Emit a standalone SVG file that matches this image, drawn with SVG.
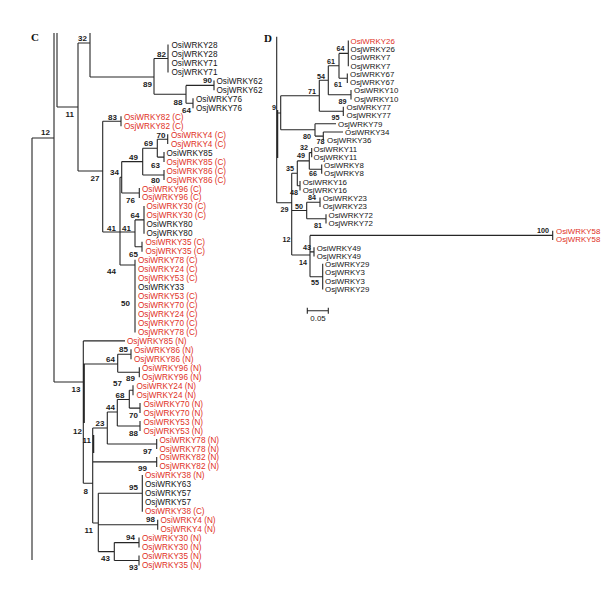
<svg xmlns="http://www.w3.org/2000/svg" width="610" height="599" viewBox="0 0 610 599">
<style>
.bg{fill:#fff}
.ln{stroke:#262626;stroke-width:1.1;fill:none}
.t{font-family:"Liberation Sans",Arial,sans-serif;font-size:8.2px;fill:#141414}
.td{font-family:"Liberation Sans",Arial,sans-serif;font-size:7.9px;fill:#141414}
.r{fill:#e0301e}
.bs{font-family:"Liberation Sans",Arial,sans-serif;font-size:8px;font-weight:bold;fill:#1a1a1a;text-anchor:end}
.bsd{font-family:"Liberation Sans",Arial,sans-serif;font-size:7.2px;font-weight:bold;fill:#1a1a1a;text-anchor:end}
.pl{font-family:"Liberation Serif","Times New Roman",serif;font-size:11px;font-weight:bold;fill:#111}
</style>
<rect class="bg" x="0" y="0" width="610" height="599"/>
<text class="pl" x="31" y="41">C</text>
<text class="pl" x="264" y="42">D</text>
<g id="connectors">
<path class="ln" d="M32 138V560M32 138H54M54 33V382M57 33V107M57 107H78M78 43V171M78 43H90M90 33V77M90 77H154M154 58.5V94.3M154 58.5H168M168 44.5V72.4M154 94.3H186M186 85.4V103.3M186 85.4H214M214 80.4V90.3M186 103.3H193M193 98.3V108.3"/>
<path class="ln" d="M78 171H102.7M102.7 121.2V232M102.7 121.2H121M121 116.2V126.2M102.7 232H135M120 177.3V265M120 177.3H121.7M121.7 161.6V193M121.7 161.6H142.7M142.7 148.2V175M142.7 148.2H157.3M157.3 139.2V157.1M157.3 139.2H167.7M167.7 134.2V144.1M157.3 157.1H164M164 152.1V162.1M142.7 175H164M164 170V180M121.7 193H139.3M139.3 188V197.9M135 219.9V246.8M135 219.9H144M144 205.9V233.8M135 246.8H142M142 241.8V251.7M120 265H135M135 259.7V332.4"/>
<path class="ln" d="M54 382H83.3M83.3 340.9V483.3M84.3 364V423M83.3 340.9H125M83.3 364H117.7M117.7 354.3V372.3M117.7 354.3H131M131 349.3V359.3M117.7 372.3H139.3M139.3 367.3V377.2M83.3 483.3H92.7M92.7 428V523M93.7 435V453M92.7 428H107.3M107.3 412V444M107.3 412H117.3M117.3 399.5V426M117.3 399.5H129.3M129.3 390.2V408.1M129.3 390.2H133M133 385.2V395.2M129.3 408.1H140M140 403.1V413.1M117.3 426H140M140 421.1V431M107.3 444H156.7M156.7 439V449M92.7 461.9H156.7M156.7 456.9V466.9M92.7 523H98.3M98.3 493.3V551.6M98.3 493.3H142.3M142.3 474.9V511.7M98.3 524.7H157.7M157.7 519.7V529.7M98.3 551.6H114.3M114.3 542.6V560.5M114.3 542.6H139M139 537.6V547.6M114.3 560.5H139M139 555.5V565.5"/>
<path class="ln" d="M276.7 36.7V202.7M277.7 110V158M276.7 113H280.7M280.7 95.8V129.8M280.7 95.8H319.3M319.3 80.3V111.3M319.3 80.3H328.3M328.3 65.8V94.8M328.3 65.8H339M339 53.4V78.2M339 53.4H348.3M348.3 40.5V66.3M339 78.2H347.3M347.3 73.6V82.9M328.3 94.8H351M351 90.1V99.4M319.3 111.3H343.3M343.3 106.7V115.9M280.7 129.8H315M315 123.7V136.1M315 123.7H336M315 136.1H323.3M323.3 132V140.2M323.3 132H343"/>
<path class="ln" d="M276.7 202.7H291.7M291.7 173.3V255M291.7 173.3H297.3M297.3 160.9V185.7M297.3 160.9H309.3M309.3 152.6V169.2M309.3 152.6H311.7M311.7 148V157.3M309.3 169.2H321.7M321.7 164.6V173.8M297.3 185.7H300M300 181.1V190.4M291.7 210.5H306.7M306.7 202.3V218.8M306.7 202.3H320M320 197.6V206.9M306.7 218.8H326M326 214.2V223.4M291.7 255H310M310 235.4V276.7M310 235.4H552.7M552.7 230.7V240M310 251.9H314M314 247.3V256.5M310 276.7H322.7M322.7 263.8V289.6"/>
<path class="ln" d="M307.3 310.7H328.3M307.3 307.7V313.7M328.3 307.7V313.7"/>
</g>
<g id="support-values">
<text class="bs" x="166" y="56.5">82</text>
<text class="bs" x="152" y="87">89</text>
<text class="bs" x="182.5" y="105">88</text>
<text class="bs" x="212" y="83">90</text>
<text class="bs" x="191" y="112.5">64</text>
<text class="bs" x="87" y="41">32</text>
<text class="bs" x="74" y="117">11</text>
<text class="bs" x="50" y="135">12</text>
<text class="bs" x="99.5" y="181">27</text>
<text class="bs" x="117" y="119.5">83</text>
<text class="bs" x="165.5" y="137.5">70</text>
<text class="bs" x="153" y="145.5">69</text>
<text class="bs" x="160" y="168">63</text>
<text class="bs" x="138" y="159.5">49</text>
<text class="bs" x="160" y="183">80</text>
<text class="bs" x="119" y="175">34</text>
<text class="bs" x="135" y="203">76</text>
<text class="bs" x="116" y="230.5">41</text>
<text class="bs" x="131" y="230.5">41</text>
<text class="bs" x="139.5" y="217.5">64</text>
<text class="bs" x="138" y="257">65</text>
<text class="bs" x="116" y="274">44</text>
<text class="bs" x="130" y="306">50</text>
<text class="bs" x="80.5" y="392">13</text>
<text class="bs" x="115" y="361.5">64</text>
<text class="bs" x="128" y="352">85</text>
<text class="bs" x="122" y="386">57</text>
<text class="bs" x="135" y="381">89</text>
<text class="bs" x="124.5" y="397.5">68</text>
<text class="bs" x="115" y="410">44</text>
<text class="bs" x="138" y="418">70</text>
<text class="bs" x="104.5" y="425.5">23</text>
<text class="bs" x="138" y="436">88</text>
<text class="bs" x="82" y="434">12</text>
<text class="bs" x="91" y="443">11</text>
<text class="bs" x="152" y="454">97</text>
<text class="bs" x="147" y="471">99</text>
<text class="bs" x="88" y="494">8</text>
<text class="bs" x="138" y="490">95</text>
<text class="bs" x="155" y="522">98</text>
<text class="bs" x="93" y="533">11</text>
<text class="bs" x="135" y="540">94</text>
<text class="bs" x="110" y="561">43</text>
<text class="bs" x="138" y="570">93</text>
<text class="bsd" x="344.5" y="51">64</text>
<text class="bsd" x="335" y="63.5">61</text>
<text class="bsd" x="325" y="78.5">54</text>
<text class="bsd" x="316" y="93.5">71</text>
<text class="bsd" x="342" y="86.5">61</text>
<text class="bsd" x="346.5" y="103.5">89</text>
<text class="bsd" x="339.5" y="119.5">95</text>
<text class="bsd" x="276" y="110">9</text>
<text class="bsd" x="311" y="138.5">80</text>
<text class="bsd" x="324.5" y="144.4">78</text>
<text class="bsd" x="308" y="149.5">32</text>
<text class="bsd" x="305" y="158">49</text>
<text class="bsd" x="294" y="171">35</text>
<text class="bsd" x="317" y="176.3">66</text>
<text class="bsd" x="298" y="194.5">48</text>
<text class="bsd" x="316" y="200.3">84</text>
<text class="bsd" x="303" y="208.5">50</text>
<text class="bsd" x="288.5" y="212">29</text>
<text class="bsd" x="322" y="228">81</text>
<text class="bsd" x="549" y="232.5">100</text>
<text class="bsd" x="290.5" y="242">12</text>
<text class="bsd" x="311" y="250">43</text>
<text class="bsd" x="307" y="264.5">14</text>
<text class="bsd" x="319" y="285">55</text>
<text class="td" x="318" y="321" text-anchor="middle">0.05</text>
</g>
<g id="c00"><text class="t" x="171.5" y="48">OsiWRKY28</text></g>
<g id="c01"><text class="t" x="171.5" y="57">OsjWRKY28</text></g>
<g id="c02"><text class="t" x="171.5" y="65.9">OsiWRKY71</text></g>
<g id="c03"><text class="t" x="171.5" y="74.9">OsjWRKY71</text></g>
<g id="c04"><text class="t" x="216.5" y="83.9">OsiWRKY62</text></g>
<g id="c05"><text class="t" x="216.5" y="92.8">OsjWRKY62</text></g>
<g id="c06"><text class="t" x="196" y="101.8">OsiWRKY76</text></g>
<g id="c07"><text class="t" x="196" y="110.8">OsjWRKY76</text></g>
<g id="c08"><text class="t r" x="124" y="119.7">OsiWRKY82 (C)</text></g>
<g id="c09"><text class="t r" x="124" y="128.7">OsjWRKY82 (C)</text></g>
<g id="c10"><text class="t r" x="171" y="137.7">OsiWRKY4 (C)</text></g>
<g id="c11"><text class="t r" x="171" y="146.6">OsjWRKY4 (C)</text></g>
<g id="c12"><text class="t" x="166.5" y="155.6">OsiWRKY85</text></g>
<g id="c13"><text class="t r" x="166.5" y="164.6">OsjWRKY85 (C)</text></g>
<g id="c14"><text class="t r" x="166.5" y="173.5">OsiWRKY86 (C)</text></g>
<g id="c15"><text class="t r" x="166.5" y="182.5">OsjWRKY86 (C)</text></g>
<g id="c16"><text class="t r" x="142" y="191.5">OsiWRKY96 (C)</text></g>
<g id="c17"><text class="t r" x="142" y="200.4">OsjWRKY96 (C)</text></g>
<g id="c18"><text class="t r" x="146.5" y="209.4">OsiWRKY30 (C)</text></g>
<g id="c19"><text class="t r" x="146.5" y="218.4">OsjWRKY30 (C)</text></g>
<g id="c20"><text class="t" x="146.5" y="227.3">OsiWRKY80</text></g>
<g id="c21"><text class="t" x="146.5" y="236.3">OsjWRKY80</text></g>
<g id="c22"><text class="t r" x="145.5" y="245.3">OsiWRKY35 (C)</text></g>
<g id="c23"><text class="t r" x="145.5" y="254.2">OsjWRKY35 (C)</text></g>
<g id="c24"><text class="t r" x="138" y="263.2">OsiWRKY78 (C)</text></g>
<g id="c25"><text class="t r" x="138" y="272.2">OsiWRKY24 (C)</text></g>
<g id="c26"><text class="t r" x="138" y="281.1">OsjWRKY53 (C)</text></g>
<g id="c27"><text class="t" x="138" y="290.1">OsiWRKY33</text></g>
<g id="c28"><text class="t r" x="138" y="299">OsiWRKY53 (C)</text></g>
<g id="c29"><text class="t r" x="138" y="308">OsiWRKY70 (C)</text></g>
<g id="c30"><text class="t r" x="138" y="317">OsjWRKY24 (C)</text></g>
<g id="c31"><text class="t r" x="138" y="325.9">OsjWRKY70 (C)</text></g>
<g id="c32"><text class="t r" x="138" y="334.9">OsjWRKY78 (C)</text></g>
<g id="c33"><text class="t r" x="127" y="343.9">OsjWRKY85 (N)</text></g>
<g id="c34"><text class="t r" x="134" y="352.8">OsiWRKY86 (N)</text></g>
<g id="c35"><text class="t r" x="134" y="361.8">OsjWRKY86 (N)</text></g>
<g id="c36"><text class="t r" x="142" y="370.8">OsiWRKY96 (N)</text></g>
<g id="c37"><text class="t r" x="142" y="379.7">OsjWRKY96 (N)</text></g>
<g id="c38"><text class="t r" x="136.5" y="388.7">OsiWRKY24 (N)</text></g>
<g id="c39"><text class="t r" x="136.5" y="397.7">OsjWRKY24 (N)</text></g>
<g id="c40"><text class="t r" x="143.5" y="406.6">OsiWRKY70 (N)</text></g>
<g id="c41"><text class="t r" x="143.5" y="415.6">OsjWRKY70 (N)</text></g>
<g id="c42"><text class="t r" x="143.5" y="424.6">OsiWRKY53 (N)</text></g>
<g id="c43"><text class="t r" x="143.5" y="433.5">OsjWRKY53 (N)</text></g>
<g id="c44"><text class="t r" x="159.5" y="442.5">OsiWRKY78 (N)</text></g>
<g id="c45"><text class="t r" x="159.5" y="451.5">OsjWRKY78 (N)</text></g>
<g id="c46"><text class="t r" x="159.5" y="460.4">OsiWRKY82 (N)</text></g>
<g id="c47"><text class="t r" x="159.5" y="469.4">OsjWRKY82 (N)</text></g>
<g id="c48"><text class="t r" x="145" y="478.4">OsiWRKY38 (N)</text></g>
<g id="c49"><text class="t" x="145" y="487.3">OsiWRKY63</text></g>
<g id="c50"><text class="t" x="145" y="496.3">OsiWRKY57</text></g>
<g id="c51"><text class="t" x="145" y="505.3">OsjWRKY57</text></g>
<g id="c52"><text class="t r" x="145" y="514.2">OsiWRKY38 (C)</text></g>
<g id="c53"><text class="t r" x="160.5" y="523.2">OsiWRKY4 (N)</text></g>
<g id="c54"><text class="t r" x="160.5" y="532.2">OsjWRKY4 (N)</text></g>
<g id="c55"><text class="t r" x="142" y="541.1">OsiWRKY30 (N)</text></g>
<g id="c56"><text class="t r" x="142" y="550.1">OsjWRKY30 (N)</text></g>
<g id="c57"><text class="t r" x="142" y="559">OsiWRKY35 (N)</text></g>
<g id="c58"><text class="t r" x="142" y="568">OsjWRKY35 (N)</text></g>
<g id="d00"><text class="td r" x="350.5" y="43.8">OsiWRKY26</text></g>
<g id="d01"><text class="td" x="350.5" y="52.1">OsjWRKY26</text></g>
<g id="d02"><text class="td" x="350.5" y="60.3">OsiWRKY7</text></g>
<g id="d03"><text class="td" x="350.5" y="68.6">OsjWRKY7</text></g>
<g id="d04"><text class="td" x="350" y="76.9">OsiWRKY67</text></g>
<g id="d05"><text class="td" x="350" y="85.2">OsjWRKY67</text></g>
<g id="d06"><text class="td" x="354" y="93.4">OsiWRKY10</text></g>
<g id="d07"><text class="td" x="354" y="101.7">OsjWRKY10</text></g>
<g id="d08"><text class="td" x="346.5" y="110">OsiWRKY77</text></g>
<g id="d09"><text class="td" x="346.5" y="118.2">OsjWRKY77</text></g>
<g id="d10"><text class="td" x="338" y="126.5">OsjWRKY79</text></g>
<g id="d11"><text class="td" x="345" y="134.8">OsiWRKY34</text></g>
<g id="d12"><text class="td" x="327" y="143">OsjWRKY36</text></g>
<g id="d13"><text class="td" x="313.5" y="152">OsiWRKY11</text></g>
<g id="d14"><text class="td" x="313.5" y="159.8">OsjWRKY11</text></g>
<g id="d15"><text class="td" x="324" y="167.9">OsiWRKY8</text></g>
<g id="d16"><text class="td" x="324" y="176.1">OsjWRKY8</text></g>
<g id="d17"><text class="td" x="302.7" y="184.7">OsiWRKY16</text></g>
<g id="d18"><text class="td" x="302.7" y="192.7">OsjWRKY16</text></g>
<g id="d19"><text class="td" x="322.7" y="200.9">OsiWRKY23</text></g>
<g id="d20"><text class="td" x="322.7" y="209.2">OsjWRKY23</text></g>
<g id="d21"><text class="td" x="328.5" y="217.5">OsiWRKY72</text></g>
<g id="d22"><text class="td" x="328.5" y="225.7">OsjWRKY72</text></g>
<g id="d23"><text class="td r" x="556" y="234">OsiWRKY58</text></g>
<g id="d24"><text class="td r" x="556" y="242.3">OsjWRKY58</text></g>
<g id="d25"><text class="td" x="316.7" y="250.6">OsiWRKY49</text></g>
<g id="d26"><text class="td" x="316.7" y="258.8">OsjWRKY49</text></g>
<g id="d27"><text class="td" x="325" y="267.1">OsiWRKY29</text></g>
<g id="d28"><text class="td" x="325" y="275.4">OsjWRKY3</text></g>
<g id="d29"><text class="td" x="325" y="283.6">OsiWRKY3</text></g>
<g id="d30"><text class="td" x="325" y="291.9">OsjWRKY29</text></g>
</svg>
